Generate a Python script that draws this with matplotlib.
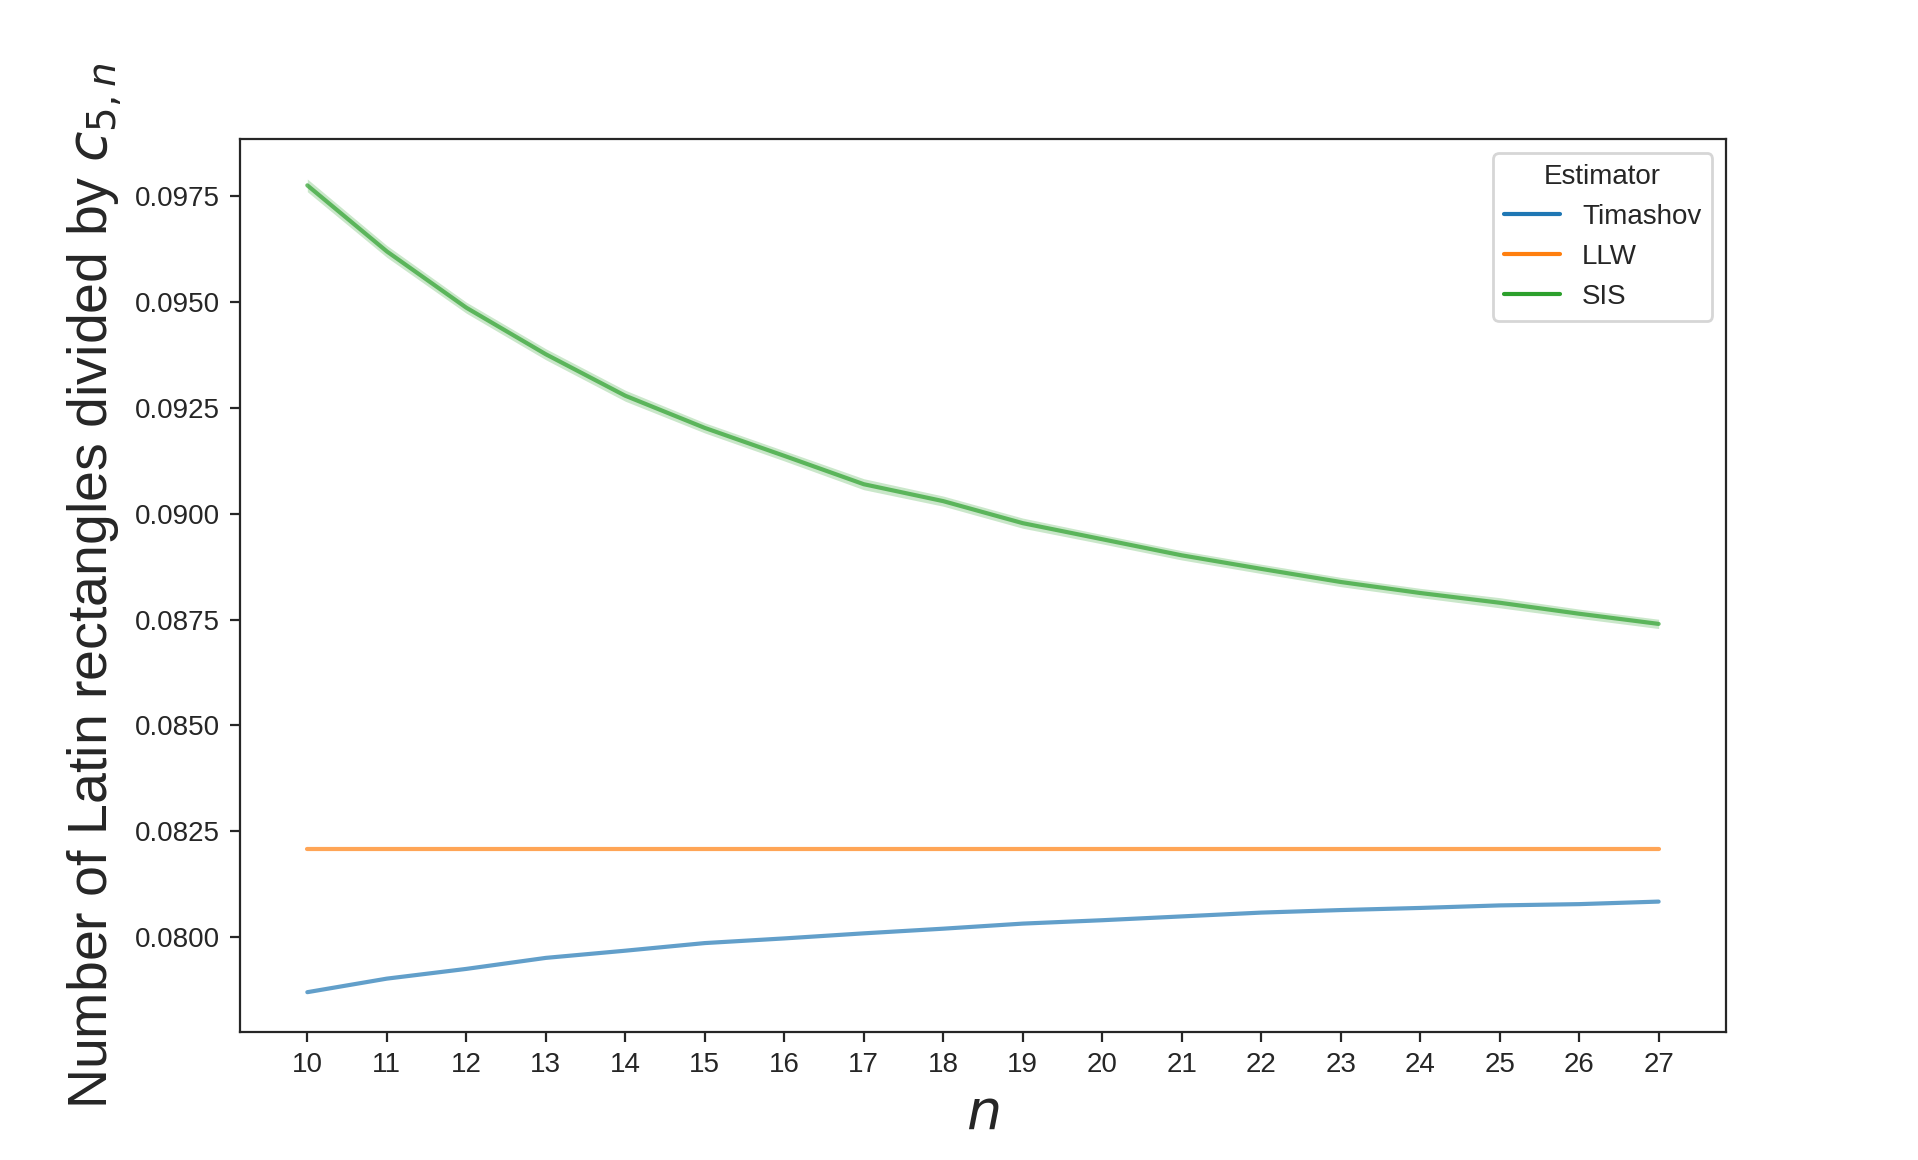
import matplotlib
matplotlib.use("Agg")
import matplotlib.pyplot as plt
import seaborn as sns
import numpy as np

n_values = list(range(10, 28))
timashov = [0.07870, 0.07902, 0.07925, 0.07951, 0.07968, 0.07986, 0.07997, 0.08009, 0.08020,
            0.08032, 0.08040, 0.08049, 0.08058, 0.08064, 0.08069, 0.08075, 0.08078, 0.08084]
llw = [0.08208] * 18
sis = [0.09776, 0.09620, 0.09487, 0.09377, 0.09279, 0.09203, 0.09137, 0.09070, 0.09030,
       0.08978, 0.08940, 0.08902, 0.08870, 0.08839, 0.08813, 0.08790, 0.08764, 0.08740]
sis_halfwidth = [0.00015, 0.00014, 0.00013, 0.00013, 0.00013, 0.00012, 0.00012, 0.00013, 0.00012,
                 0.00012, 0.00011, 0.00011, 0.00011, 0.00011, 0.00011, 0.00012, 0.00011, 0.00011]
series_names = ["Timashov", "LLW", "SIS"]

sns.set_style("ticks")
plt.rcParams['font.family'] = ['Liberation Sans', 'DejaVu Sans']

fig, ax = plt.subplots(figsize=(9.59, 5.8), dpi=200)
colors = sns.color_palette("tab10")[:3]
data = [timashov, llw, sis]
for name, vals, c in zip(series_names, data, colors):
    ax.plot(n_values, vals, color=c, lw=1.5, alpha=0.7)
lo = np.array(sis) - np.array(sis_halfwidth)
hi = np.array(sis) + np.array(sis_halfwidth)
ax.fill_between(n_values, lo, hi, color=colors[2], alpha=0.25, lw=0)

handles = [plt.Line2D([], [], color=c, lw=1.5) for c in colors]
ax.legend(handles, series_names, title="Estimator", loc="upper right")

ax.set_xticks(n_values)
ax.set_yticks([0.0800, 0.0825, 0.0850, 0.0875, 0.0900, 0.0925, 0.0950, 0.0975])
ax.yaxis.set_major_formatter(matplotlib.ticker.FormatStrFormatter('%.4f'))
ax.set_xlim(9.15, 27.85)
ax.set_ylim(0.07775, 0.09885)
ax.set_xlabel("$n$", fontsize=20)
ax.set_ylabel("Number of Latin rectangles divided by $c_{5,n}$", fontsize=20)
fig.savefig("out.png", dpi=200)
